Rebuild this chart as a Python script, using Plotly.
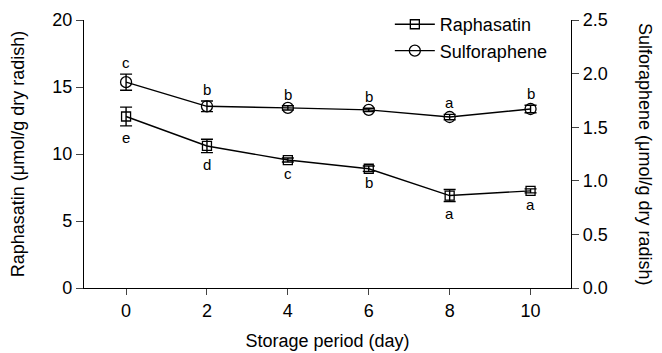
import plotly.graph_objects as go

days = [0, 2, 4, 6, 8, 10]
raphasatin = [12.8, 10.6, 9.55, 8.9, 6.9, 7.25]
raphasatin_err = [0.7, 0.5, 0.15, 0.2, 0.45, 0.15]
raphasatin_letters = ["e", "d", "c", "b", "a", "a"]
sulforaphene = [1.92, 1.695, 1.68, 1.662, 1.595, 1.67]
sulforaphene_err = [0.075, 0.05, 0.02, 0.015, 0.025, 0.035]
sulforaphene_letters = ["c", "b", "b", "b", "a", "b"]
y1_ticks = [0, 5, 10, 15, 20]
y2_ticks = [0, 0.5, 1.0, 1.5, 2.0, 2.5]
y2_ticktext = ["0.0", "0.5", "1.0", "1.5", "2.0", "2.5"]

FONT = "Liberation Sans, Arial, sans-serif"

fig = go.Figure()
fig.add_trace(go.Scatter(
    x=days, y=raphasatin, name="Raphasatin", mode="lines+markers",
    line=dict(color="black", width=1.4),
    marker=dict(symbol="square-open", size=9, color="black", line=dict(width=1.3)),
    error_y=dict(type="data", array=raphasatin_err, color="black", thickness=1.4, width=6),
))
fig.add_trace(go.Scatter(
    x=days, y=sulforaphene, name="Sulforaphene", mode="lines+markers", yaxis="y2",
    line=dict(color="black", width=1.4),
    marker=dict(symbol="circle-open", size=11, color="black", line=dict(width=1.3)),
    error_y=dict(type="data", array=sulforaphene_err, color="black", thickness=1.4, width=6),
))

annotations = []
for d, v, e, t in zip(days, raphasatin, raphasatin_err, raphasatin_letters):
    annotations.append(dict(x=d, y=v - e, text=t, showarrow=False, yanchor="top", yshift=-1,
                            font=dict(size=15, color="black", family=FONT)))
for d, v, e, t in zip(days, sulforaphene, sulforaphene_err, sulforaphene_letters):
    annotations.append(dict(x=d, y=v + e, yref="y2", text=t, showarrow=False, yanchor="bottom", yshift=1,
                            font=dict(size=15, color="black", family=FONT)))
annotations.append(dict(x=1.0, xref="paper", xshift=86, y=0.5, yref="paper",
                        text="Sulforaphene (μmol/g dry radish)",
                        textangle=90, showarrow=False, font=dict(size=18, color="black", family=FONT)))

fig.update_layout(
    width=654, height=345,
    margin=dict(l=76, r=91, t=12, b=65, autoexpand=False),
    paper_bgcolor="white", plot_bgcolor="white",
    font=dict(family=FONT, color="black", size=18),
    showlegend=True,
    legend=dict(x=0.628, y=1.052, xanchor="left", yanchor="top", bgcolor="rgba(0,0,0,0)",
                font=dict(size=18), tracegroupgap=0, itemwidth=40),
    xaxis=dict(range=[-1.04, 11], tickvals=days, ticks="outside", ticklen=6, tickwidth=1.4,
               showline=True, linecolor="black", linewidth=1.4, showgrid=False, zeroline=False,
               automargin=False,
               title=dict(text="Storage period (day)", font=dict(size=18), standoff=14),
               tickfont=dict(size=18)),
    yaxis=dict(range=[0, 20], tickvals=y1_ticks, ticks="outside", ticklen=7, tickwidth=1.4,
               showline=True, linecolor="black", linewidth=1.4, showgrid=False, zeroline=False,
               automargin=False,
               title=dict(text="Raphasatin (μmol/g dry radish)", font=dict(size=18), standoff=22),
               tickfont=dict(size=18)),
    yaxis2=dict(range=[0, 2.5], tickvals=y2_ticks, ticktext=y2_ticktext,
                overlaying="y", side="right", ticks="outside", ticklen=7, tickwidth=1.4,
                showline=True, linecolor="black", linewidth=1.4, showgrid=False, zeroline=False,
                automargin=False,
                tickfont=dict(size=18)),
    annotations=annotations,
)

fig.write_html("out.html")
